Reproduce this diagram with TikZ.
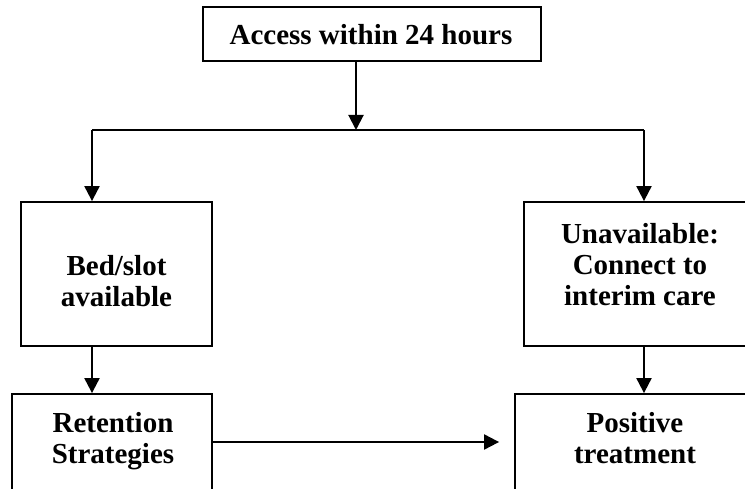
\documentclass[tikz,border=0pt]{standalone}
\usepackage{fontspec}
\setmainfont{Liberation Serif}
\usetikzlibrary{arrows.meta}

\tikzset{
    box/.style={draw,line width=1.8pt,inner sep=0pt},
    lbl/.style={align=center,inner sep=0pt,font=\bfseries\fontsize{29}{31}\selectfont},
    arr/.style={line width=2pt,-{Triangle[length=15pt,width=15pt]}}
}

\begin{document}
\begin{tikzpicture}[x=1pt,y=-1pt]
            \useasboundingbox (0,0) rectangle (745,489);
            \clip (0,0) rectangle (745,489);

            % boxes
            \node[box,minimum width=338pt,minimum height=54pt] (access) at (372,34) {};
            \node[box,minimum width=191pt,minimum height=144pt] (bed) at (116.5,274) {};
            \node[box,minimum width=232pt,minimum height=144pt] (unavail) at (640,274) {};
            \node[box,minimum width=200pt,minimum height=96pt] (retain) at (112,442) {};
            \node[box,minimum width=240pt,minimum height=96pt] (positive) at (635,442) {};

            % texts
            \node[lbl] (accesstxt) at (371,35) {Access within 24 hours};
            \node[lbl] (bedtxt) at (116.5,281) {Bed/slot\\available};
            \node[lbl] (unavailtxt) at (640,265) {Unavailable:\\Connect to\\interim care};
            \node[lbl] (retaintxt) at (113,441.5) {Retention\\Strategies};
            \node[lbl] (positivetxt) at (635,438.5) {Positive\\treatment};

            % branch
            \coordinate (split) at (356,130);
            \coordinate (lft) at (92,130);
            \coordinate (rgt) at (644,130);

            \draw[arr] (access.south -| split) -- (split);
            \draw[line width=2pt] (lft) -- (rgt);
            \draw[arr] (lft) -- (lft |- bed.north);
            \draw[arr] (rgt) -- (rgt |- unavail.north);
            \draw[arr] (lft |- bed.south) -- (lft |- retain.north);
            \draw[arr] (rgt |- unavail.south) -- (rgt |- positive.north);
            \draw[arr] (retain.east) -- ([xshift=-15pt]positive.west);

        \end{tikzpicture}
\end{document}
